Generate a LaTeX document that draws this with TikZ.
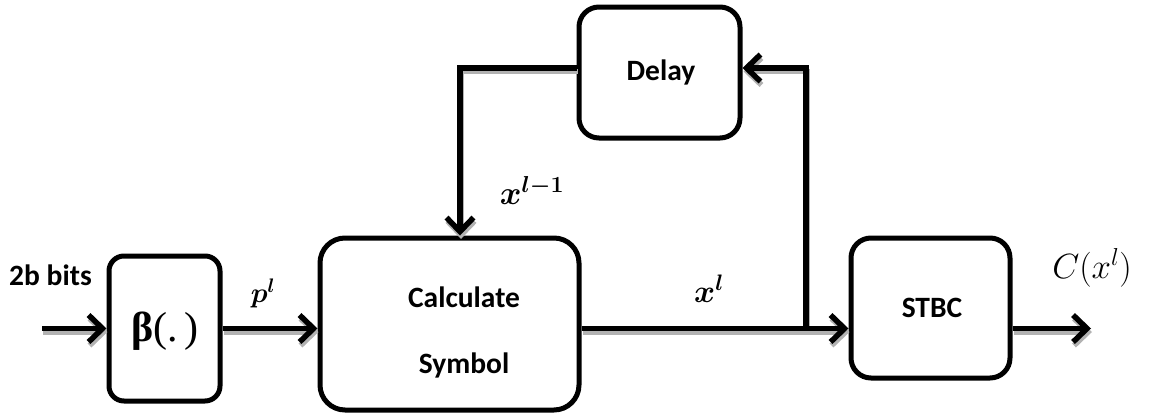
\documentclass[tikz,border=0pt]{standalone}
\usepackage{fix-cm}
\usepackage{amsmath}
\usepackage[no-math]{fontspec}
\setmainfont{Carlito}
\newfontfamily\grkfont{Liberation Serif}
\usetikzlibrary{arrows.meta}
\newcommand{\bx}{\boldsymbol{x}}
\newcommand{\bl}{\boldsymbol{l}}
\begin{document}
\begin{tikzpicture}[x=1pt,y=-1pt,
  box/.style={draw,line width=5pt,inner sep=0pt},
  lbl/.style={font=\fontsize{29.5}{31}\selectfont\bfseries,inner sep=0pt},
  mlbl/.style={inner sep=0pt},
  tip/.style={-{Straight Barb[length=14pt,width=27pt]}},
  conn/.style={line width=5.5pt,tip},
  shade/.style={line width=5.5pt,tip,draw=gray!60},
]
\useasboundingbox (0,0) rectangle (1160,413);
% boxes
\node[box, minimum width=111pt, minimum height=145pt, rounded corners=15pt] (beta) at (164.5,328.5) {};
\node[box, minimum width=259pt, minimum height=172pt, rounded corners=25pt] (calc) at (449.5,324) {};
\node[box, minimum width=161pt, minimum height=131pt, rounded corners=20pt] (delay) at (659.5,72.5) {};
\node[box, minimum width=159pt, minimum height=140pt, rounded corners=20pt] (stbc) at (930.5,308) {};
% box texts
\node[inner sep=0pt,font=\fontsize{42}{44}\selectfont\grkfont] (betatext) at (165,331) {\textbf{β}(.\,)};
\node[lbl] (calc1) at (464,297) {Calculate};
\node[lbl] (calc2) at (464,365) {Symbol};
\node[lbl] (delaytext) at (661,72) {Delay};
\node[lbl] (stbctext) at (932,308) {STBC};
% labels
\node[lbl] (bits) at (50.5,275) {2b bits};
\node[mlbl,font=\fontsize{28}{30}\selectfont] (plab) at (263,293) {$\boldsymbol{p}^{\bl}$};
\node[mlbl,font=\fontsize{32}{34}\selectfont] (xlab) at (709,289) {$\bx^{\bl}$};
\node[mlbl,font=\fontsize{33}{35}\selectfont] (xlabprev) at (532,190) {$\bx^{\bl\boldsymbol{-1}}$};
\node[mlbl,font=\fontsize{35}{37}\selectfont] (cxl) at (1092,268) {$C(x^{l})$};
% coordinates
\coordinate (in) at (42,328.5);
\coordinate (jn) at (806,328.5);
\coordinate (out) at (1091,328.5);
\coordinate (fbL) at (460,68);
\coordinate (fbR) at (806,68);
% connector shadows
\begin{scope}[transform canvas={xshift=1pt,yshift=-3.5pt}]
\draw[shade] (in) -- (beta.west);
\draw[shade] (beta.east) -- (beta.east -| calc.west);
\draw[shade] (beta.east -| calc.east) -- (beta.east -| stbc.west);
\draw[shade] (beta.east -| stbc.east) -- (out);
\draw[shade] (fbL -| delay.west) -- (fbL) -- (fbL |- calc.north);
\draw[shade] (jn) -- (fbR) -- (fbR -| delay.east);
\end{scope}
% connectors
\draw[conn] (in) -- (beta.west);
\draw[conn] (beta.east) -- (beta.east -| calc.west);
\draw[conn] (beta.east -| calc.east) -- (beta.east -| stbc.west);
\draw[conn] (beta.east -| stbc.east) -- (out);
\draw[conn] (fbL -| delay.west) -- (fbL) -- (fbL |- calc.north);
\draw[conn] (jn) -- (fbR) -- (fbR -| delay.east);
\end{tikzpicture}
\end{document}
